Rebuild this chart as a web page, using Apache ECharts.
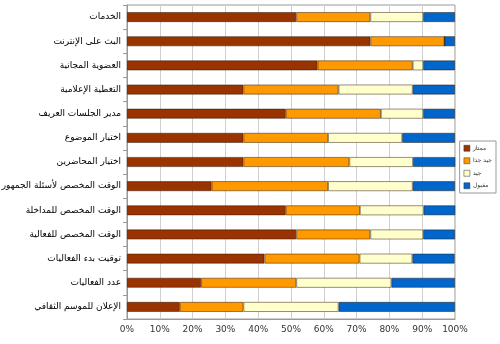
<!DOCTYPE html>
<html>
<head>
<meta charset="utf-8">
<script src="https://cdn.jsdelivr.net/npm/echarts@6/dist/echarts.min.js"></script>
<style>
  html, body { margin: 0; padding: 0; background: #fff; }
  #chart { width: 500px; height: 344px; }
</style>
</head>
<body>
<div id="chart"></div>
<script>
// Survey items, listed top to bottom
const categories = [
  'الخدمات',
  'البث على الإنترنت',
  'العضوية المجانية',
  'التغطية الإعلامية',
  'مدير الجلسات العريف',
  'اختيار الموضوع',
  'اختيار المحاضرين',
  'الوقت المخصص لأسئلة الجمهور',
  'الوقت المخصص للمداخلة',
  'الوقت المخصص للفعالية',
  'توقيت بدء الفعاليات',
  'عدد الفعاليات',
  'الإعلان للموسم الثقافي'
];

// Share of responses per rating (percent)
const excellent = [51.6, 74.2, 58.1, 35.5, 48.4, 35.5, 35.5, 25.8, 48.4, 51.6, 41.9, 22.6, 16.1];
const veryGood  = [22.6, 22.6, 29.0, 29.0, 29.0, 25.8, 32.3, 35.5, 22.6, 22.6, 29.0, 29.0, 19.4];
const good      = [16.1,  0.0,  3.2, 22.6, 12.9, 22.6, 19.4, 25.8, 19.4, 16.1, 16.1, 29.0, 29.0];
const fair      = [ 9.7,  3.2,  9.7, 12.9,  9.7, 16.1, 12.9, 12.9,  9.7,  9.7, 12.9, 19.4, 35.5];

const seriesNames = ['ممتاز', 'جيد جدا', 'جيد', 'مقبول'];
const seriesColors = ['#993300', '#FF9900', '#FFFFCC', '#0066CC'];
const xTicks = [0, 10, 20, 30, 40, 50, 60, 70, 80, 90, 100];

const chart = echarts.init(document.getElementById('chart'), null, { renderer: 'canvas' });

const values = [excellent, veryGood, good, fair];

chart.setOption({
  animation: false,
  backgroundColor: '#ffffff',
  textStyle: { fontFamily: 'DejaVu Sans' },
  grid: {
    left: 127, right: 45, top: 5, bottom: 25,
    outerBoundsMode: 'none',
    containLabel: false,
    show: true, borderColor: '#999', borderWidth: 1, backgroundColor: 'transparent'
  },
  legend: {
    orient: 'vertical',
    right: 4, top: 141,
    data: seriesNames,
    itemWidth: 6, itemHeight: 6, itemGap: 6,
    padding: [4, 4, 4, 4],
    borderColor: '#999', borderWidth: 1,
    icon: 'rect',
    textStyle: { fontSize: 6, color: '#333', fontFamily: 'DejaVu Sans', padding: [0, 0, 0, -2] },
    itemStyle: { borderColor: '#333', borderWidth: 0.5 }
  },
  xAxis: {
    type: 'value',
    min: xTicks[0], max: xTicks[xTicks.length - 1], interval: 10,
    axisLine: { show: true, lineStyle: { color: '#999' } },
    axisTick: { show: false },
    splitLine: { show: true, lineStyle: { color: '#d0d0d0', width: 1 } },
    axisLabel: { formatter: '{value}%', fontSize: 9, color: '#333', margin: 6 }
  },
  yAxis: {
    type: 'category',
    inverse: true,
    data: categories,
    axisLine: { show: true, lineStyle: { color: '#999' } },
    axisTick: { show: true, length: 4, lineStyle: { color: '#999' } },
    splitLine: { show: false },
    axisLabel: { fontSize: 9, color: '#000', margin: 6, fontFamily: 'DejaVu Sans' }
  },
  series: values.map((arr, i) => ({
    name: seriesNames[i],
    type: 'bar',
    stack: 'total',
    data: arr,
    barWidth: 10,
    itemStyle: {
      color: seriesColors[i],
      borderColor: 'rgba(40,20,0,0.6)',
      borderWidth: 0.8
    }
  }))
});
</script>
</body>
</html>
